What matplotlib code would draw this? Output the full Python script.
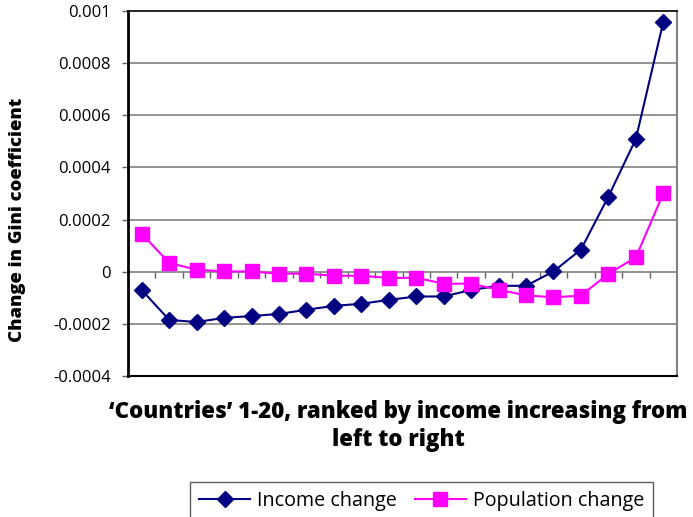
import matplotlib
matplotlib.use("Agg")
import matplotlib.pyplot as plt
import numpy as np

plt.rcParams['font.family'] = ['Open Sans', 'DejaVu Sans']

countries = list(range(1, 21))
income_change = [-0.00007, -0.000185, -0.000193, -0.000177, -0.00017,
                 -0.000162, -0.000146, -0.000131, -0.000123, -0.000108,
                 -0.000095, -0.000095, -0.00007, -0.000054, -0.000054,
                 0.000001, 0.000085, 0.000288, 0.000509, 0.000958]
population_change = [0.000146, 0.0000335, 0.0000077, 0.000001, 0.000001,
                     -0.0000077, -0.0000077, -0.0000154, -0.0000154, -0.000024,
                     -0.000023, -0.000046, -0.000046, -0.000069, -0.000091,
                     -0.000098, -0.000092, -0.0000077, 0.000055, 0.0003]
y_ticks = [-0.0004, -0.0002, 0, 0.0002, 0.0004, 0.0006, 0.0008, 0.001]
y_tick_labels = ['-0.0004', '-0.0002', '0', '0.0002', '0.0004', '0.0006', '0.0008', '0.001']

W, H = 693, 517
fig = plt.figure(figsize=(W / 100, H / 100), dpi=100)
ax = fig.add_axes([128 / W, (H - 376) / H, (677 - 128) / W, (376 - 11) / H])

x = np.arange(len(countries))
ax.set_xlim(-0.5, len(countries) - 0.5)
ax.set_ylim(-0.0004, 0.001)

# horizontal gridlines
for yv in y_ticks[1:-1]:
    ax.axhline(yv, color='#808080', lw=1.2, zorder=1)

ax.plot(x, income_change, color='#000080', lw=1.5, marker='D', markersize=8,
        markerfacecolor='#000080', markeredgecolor='#000080', label='Income change', zorder=3)
ax.plot(x, population_change, color='#FF00FF', lw=1.5, marker='s', markersize=10,
        markerfacecolor='#FF00FF', markeredgecolor='#FF00FF', label='Population change', zorder=3)

ax.set_yticks(y_ticks)
ax.set_yticklabels(y_tick_labels, fontsize=12)
ax.tick_params(axis='y', direction='out', length=4.5, width=1, color='#606060', pad=8)
ax.set_xticks([])

for side in ['left', 'bottom', 'top']:
    ax.spines[side].set_color('black')
ax.spines['left'].set_linewidth(2)
ax.spines['bottom'].set_linewidth(1.5)
ax.spines['top'].set_linewidth(1.2)
ax.spines['right'].set_color('#808080')
ax.spines['right'].set_linewidth(1.5)

# category axis crossing at zero
sec = ax.secondary_xaxis(0.4 / 1.4)
sec.set_xticks(np.arange(0.5, len(countries) - 0.5, 1.0))
sec.set_xticklabels([])
sec.tick_params(direction='out', length=4, width=1, color='#606060')
sec.spines['bottom'].set_visible(False)

fig.text(398 / W, 1 - 412 / H, "\u2018Countries\u2019 1-20, ranked by income increasing from",
         ha='center', va='center', fontsize=16, fontweight='heavy')
fig.text(398 / W, 1 - 440 / H, "left to right",
         ha='center', va='center', fontsize=16, fontweight='heavy')
fig.text(18 / W, 1 - 220 / H, "Change in Gini coefficient", rotation=90,
         ha='center', va='center', fontsize=13.3, fontweight='heavy')

leg = fig.legend(handles=ax.get_lines()[-2:], loc='lower left',
                 bbox_to_anchor=(190 / W, -3 / H), ncol=2, frameon=True,
                 fancybox=False, fontsize=14.2, handlelength=2.6, columnspacing=0.9,
                 handletextpad=0.35, borderpad=0.45, borderaxespad=0)
leg.get_frame().set_edgecolor('#333333')
leg.get_frame().set_linewidth(1)

fig.savefig('out.png', dpi=100)
